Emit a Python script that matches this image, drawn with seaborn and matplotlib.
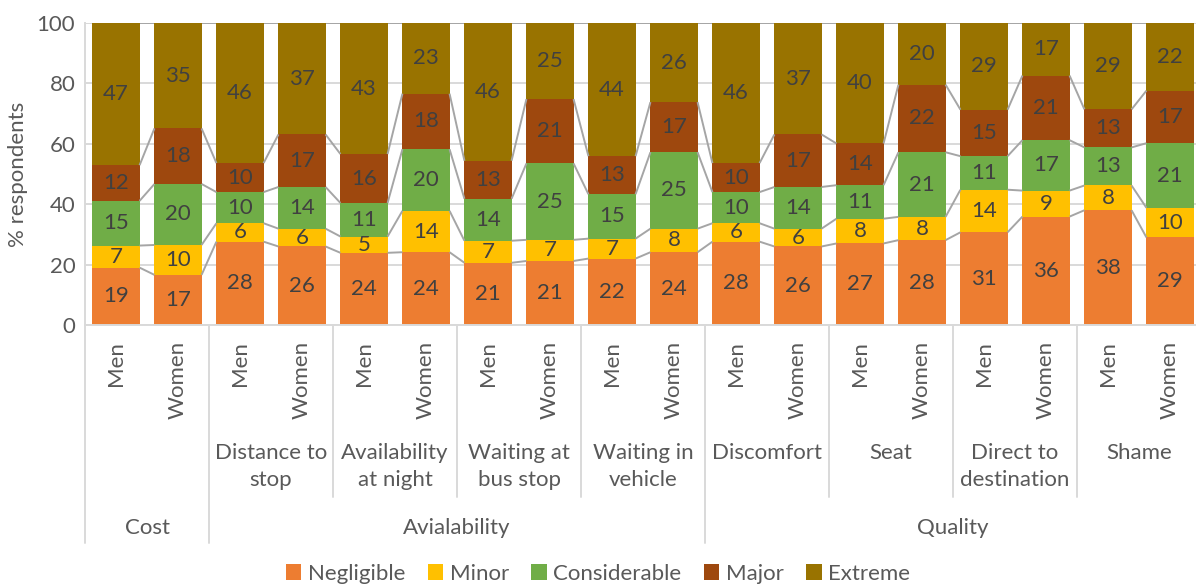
import matplotlib
matplotlib.use("Agg")
import matplotlib.pyplot as plt
import matplotlib.transforms as mtransforms
from matplotlib.patches import Patch
import pandas as pd
import seaborn as sns

# bars: 9 factors x (Men, Women)
sexes = ["Men", "Women"] * 9
categories = ["", "Distance to\nstop", "Availability\nat night", "Waiting at\nbus stop",
              "Waiting in\nvehicle", "Discomfort", "Seat", "Direct to\ndestination", "Shame"]
groups = ["Cost", "Avialability", "Quality"]
group_sizes = [1, 4, 4]

levels = ["Negligible", "Minor", "Considerable", "Major", "Extreme"]
colors = ["#ED7D31", "#FFC000", "#70AD47", "#9E480E", "#997300"]

negligible = [19.0, 16.6, 27.6, 26.0, 23.9, 24.1, 20.6, 21.2, 22.0, 24.1, 27.6, 26.0, 27.0, 28.1, 30.7, 35.9, 38.0, 29.0]
minor = [7.3, 9.9, 6.1, 5.9, 5.4, 13.7, 7.3, 7.0, 6.6, 7.8, 6.1, 5.9, 8.2, 7.7, 14.1, 8.6, 8.2, 9.8]
considerable = [14.8, 20.2, 10.3, 13.8, 11.1, 20.4, 13.9, 25.3, 14.7, 25.3, 10.3, 13.8, 11.1, 21.4, 11.1, 16.7, 12.6, 21.4]
major = [11.8, 18.4, 9.6, 17.4, 16.2, 18.4, 12.6, 21.3, 12.6, 16.6, 9.6, 17.4, 13.8, 22.4, 15.4, 21.4, 12.6, 17.4]
extreme = [47.1, 34.9, 46.4, 36.9, 43.4, 23.4, 45.6, 25.2, 44.1, 26.2, 46.4, 36.9, 39.9, 20.4, 28.7, 17.4, 28.6, 22.4]

bar_keys = [f"{i}_{s}" for i, s in enumerate(sexes)]
df = pd.DataFrame({"bar": bar_keys, "Negligible": negligible, "Minor": minor,
                   "Considerable": considerable, "Major": major, "Extreme": extreme})
cum = df[levels].cumsum(axis=1)

sns.set_theme(style="white")
plt.rcParams["font.family"] = ["Lato", "DejaVu Sans"]

W, H = 1196, 586
fig = plt.figure(figsize=(W / 100, H / 100), dpi=100)
ax = fig.add_axes([85 / W, 1 - 325 / H, 1116 / W, 302 / H])

grey_txt = "#595959"
line_grey = "#D9D9D9"
bar_w = 0.76
fs = 16

# stacked bars: draw the cumulative tops from the highest down
for lvl, col in reversed(list(zip(levels, colors))):
    plot_df = pd.DataFrame({"bar": df["bar"], "top": cum[lvl]})
    sns.barplot(data=plot_df, x="bar", y="top", order=bar_keys, color=col,
                saturation=1, width=bar_w, errorbar=None, linewidth=0, ax=ax, zorder=2)

# series lines between neighbouring bars
n = len(bar_keys)
for lvl in levels:
    tops = cum[lvl].values
    for i in range(n - 1):
        ax.plot([i + bar_w / 2, i + 1 - bar_w / 2], [tops[i], tops[i + 1]],
                color="#A5A5A5", lw=1.4, zorder=3, solid_capstyle="butt")

# data labels
for lvl in levels:
    vals = df[lvl].values
    tops = cum[lvl].values
    for i in range(n):
        ax.text(i, tops[i] - vals[i] / 2, f"{vals[i]:.0f}", ha="center", va="center",
                fontsize=fs, color="#404040", zorder=4)

ax.set_xlim(-0.5, n - 0.5)
ax.set_ylim(0, 100)
ax.set_yticks(range(0, 101, 20))
ax.yaxis.grid(True, color=line_grey, lw=1.4)
ax.set_axisbelow(True)
ax.set_xticks([])
ax.set_xlabel("")
ax.set_ylabel("% respondents", fontsize=fs, color=grey_txt, labelpad=6)
ax.tick_params(axis="y", length=0, labelsize=fs, labelcolor=grey_txt, pad=7)
for side in ["top", "right"]:
    ax.spines[side].set_visible(False)
for side in ["left", "bottom"]:
    ax.spines[side].set_color(line_grey)
    ax.spines[side].set_linewidth(1.4)

# multi-level category axis
trans = mtransforms.blended_transform_factory(ax.transData, fig.transFigure)
fy = lambda py: 1 - py / H

for i, s in enumerate(sexes):
    ax.text(i, fy(341), s, rotation=90, ha="center", va="top", fontsize=fs,
            color=grey_txt, transform=trans)

for j, name in enumerate(categories):
    ax.text(2 * j + 0.5, fy(443), name, ha="center", va="top", fontsize=fs,
            color=grey_txt, linespacing=1.45, transform=trans)

start = 0
full_bounds = [-0.5]
for g, size in zip(groups, group_sizes):
    center = start + size - 0.5
    ax.text(center, fy(528), g, ha="center", va="center", fontsize=fs,
            color=grey_txt, transform=trans)
    start += 2 * size
    full_bounds.append(start - 0.5)

for j in range(len(categories) + 1):
    x = 2 * j - 0.5
    y_end = 543 if x in full_bounds else 497
    ax.plot([x, x], [fy(325), fy(y_end)], color=line_grey, lw=1.4,
            transform=trans, clip_on=False)

handles = [Patch(facecolor=c, edgecolor="none") for c in colors]
leg = fig.legend(handles, levels, loc="center", bbox_to_anchor=(0.5, fy(574)), ncol=5,
                 frameon=False, fontsize=fs, handlelength=0.7, handleheight=0.7,
                 handletextpad=0.3, columnspacing=1.0)
for t in leg.get_texts():
    t.set_color(grey_txt)

fig.savefig("out.png", dpi=100)
